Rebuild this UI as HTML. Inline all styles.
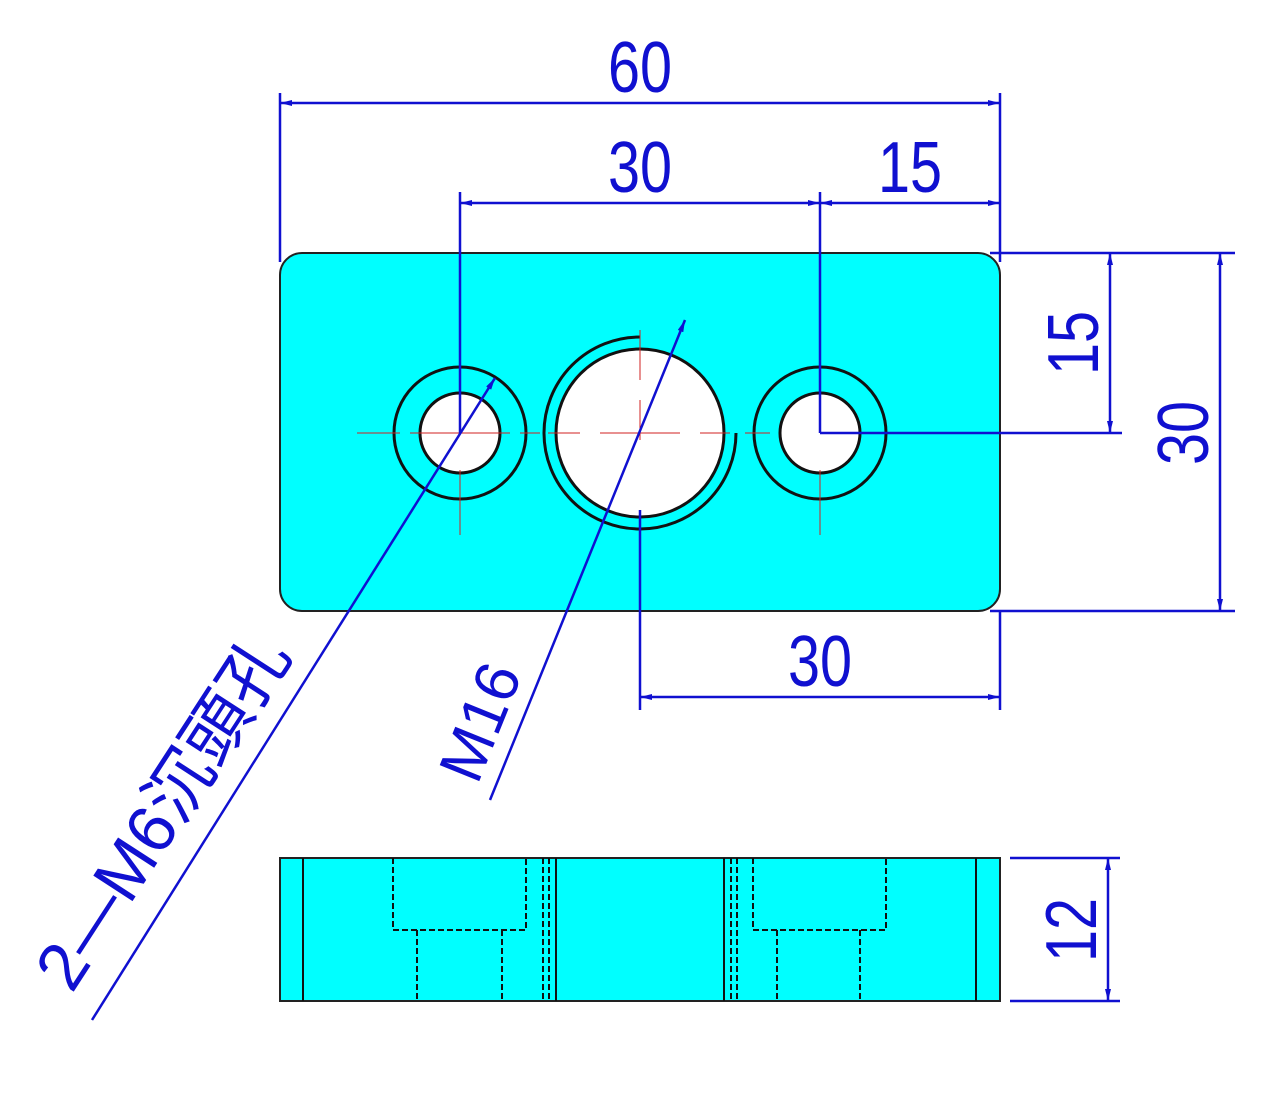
<!DOCTYPE html>
<html><head><meta charset="utf-8"><style>
html,body{margin:0;padding:0;background:#fff;}
svg{display:block;}
.d{font-family:"Liberation Sans","Noto Sans CJK TC",sans-serif;fill:#1010d0;}
</style></head><body>
<svg width="1280" height="1095" viewBox="0 0 1280 1095" xmlns="http://www.w3.org/2000/svg">
<defs>
<marker id="a" viewBox="0 0 12 6" refX="12" refY="3" markerWidth="12" markerHeight="6" orient="auto-start-reverse" markerUnits="userSpaceOnUse"><path d="M0,0 L12,3 L0,6 z" fill="#1010d0"/></marker>
</defs>
<rect x="280" y="253" width="720" height="358" rx="22" fill="#00ffff" stroke="#222" stroke-width="2"/>
<g stroke="#111" stroke-width="3">
<circle cx="460" cy="433" r="66" fill="none"/>
<circle cx="460" cy="433" r="40" fill="#fff"/>
<circle cx="820" cy="433" r="66" fill="none"/>
<circle cx="820" cy="433" r="40" fill="#fff"/>
<circle cx="640" cy="433" r="84" fill="#fff"/>
<path d="M640,337 A96,96 0 1 0 736,433" fill="none"/>
</g>
<g stroke="#d02020" stroke-width="1">
<line x1="357" y1="433" x2="400" y2="433"/><line x1="410" y1="433" x2="510" y2="433"/><line x1="520" y1="433" x2="540" y2="433"/>
<line x1="460" y1="470" x2="460" y2="535"/>
<line x1="548" y1="433" x2="580" y2="433"/><line x1="600" y1="433" x2="680" y2="433"/><line x1="700" y1="433" x2="730" y2="433"/>
<line x1="640" y1="330" x2="640" y2="380"/><line x1="640" y1="400" x2="640" y2="440"/>
<line x1="745" y1="433" x2="770" y2="433"/>
<line x1="820" y1="470" x2="820" y2="535"/>
</g>
<g stroke="#1010d0" stroke-width="2.5" fill="none">
<line x1="280" y1="93" x2="280" y2="262"/>
<line x1="1000" y1="93" x2="1000" y2="262"/>
<line x1="280" y1="103" x2="1000" y2="103" marker-start="url(#a)" marker-end="url(#a)"/>
<line x1="460" y1="192" x2="460" y2="433"/>
<line x1="820" y1="192" x2="820" y2="433"/>
<line x1="460" y1="203" x2="820" y2="203" marker-start="url(#a)" marker-end="url(#a)"/>
<line x1="820" y1="203" x2="1000" y2="203" marker-start="url(#a)" marker-end="url(#a)"/>
<line x1="820" y1="433" x2="1122" y2="433"/>
<line x1="990" y1="253" x2="1235" y2="253"/>
<line x1="990" y1="611" x2="1235" y2="611"/>
<line x1="1110" y1="253" x2="1110" y2="433" marker-start="url(#a)" marker-end="url(#a)"/>
<line x1="1220" y1="253" x2="1220" y2="611" marker-start="url(#a)" marker-end="url(#a)"/>
<line x1="640" y1="510" x2="640" y2="710"/>
<line x1="1000" y1="611" x2="1000" y2="710"/>
<line x1="640" y1="697" x2="1000" y2="697" marker-start="url(#a)" marker-end="url(#a)"/>
<line x1="92" y1="1020" x2="495" y2="378" marker-end="url(#a)"/>
<line x1="490" y1="800" x2="685" y2="320" marker-end="url(#a)"/>
<line x1="1010" y1="858" x2="1120" y2="858"/>
<line x1="1010" y1="1001" x2="1120" y2="1001"/>
<line x1="1108" y1="858" x2="1108" y2="1001" marker-start="url(#a)" marker-end="url(#a)"/>
</g>
<g class="d" font-size="72" text-anchor="middle">
<text transform="translate(640,92) scale(0.8,1)">60</text>
<text transform="translate(640,192) scale(0.8,1)">30</text>
<text transform="translate(910,192) scale(0.8,1)">15</text>
<text transform="translate(820,686) scale(0.8,1)">30</text>
<text transform="translate(1098,343) rotate(-90) scale(0.8,1)">15</text>
<text transform="translate(1208,433) rotate(-90) scale(0.8,1)">30</text>
<text transform="translate(1096,930) rotate(-90) scale(0.8,1)">12</text>
</g>
<g class="d" text-anchor="middle">
<text transform="translate(500,730) rotate(-68)" font-size="62">M16</text>
<text transform="translate(182,825) rotate(-57)" font-size="68">2—M6沉頭孔</text>
</g>
<rect x="280" y="858" width="720" height="143" fill="#00ffff" stroke="#222" stroke-width="2"/>
<g stroke="#111" stroke-width="2">
<line x1="303" y1="858" x2="303" y2="1001"/>
<line x1="976" y1="858" x2="976" y2="1001"/>
<line x1="556" y1="858" x2="556" y2="1001"/>
<line x1="724" y1="858" x2="724" y2="1001"/>
</g>
<g stroke="#111" stroke-width="2" stroke-dasharray="6,3" fill="none">
<path d="M393,858 V930 H526 V858"/>
<path d="M417,930 V1001 M502,930 V1001"/>
<path d="M753,858 V930 H886 V858"/>
<path d="M777,930 V1001 M860,930 V1001"/>
<line x1="543" y1="858" x2="543" y2="1001"/>
<line x1="549" y1="858" x2="549" y2="1001"/>
<line x1="731" y1="858" x2="731" y2="1001"/>
<line x1="737" y1="858" x2="737" y2="1001"/>
</g>
</svg>
</body></html>
